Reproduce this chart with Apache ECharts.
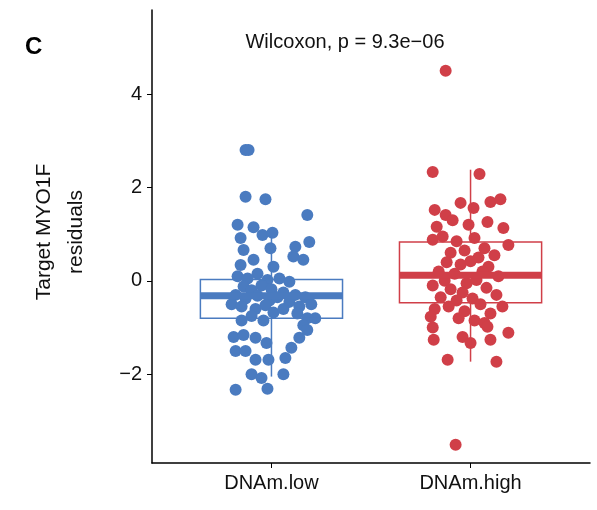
<!DOCTYPE html>
<html>
<head>
<meta charset="utf-8">
<script src="https://cdn.jsdelivr.net/npm/echarts@6/dist/echarts.min.js"></script>
<style>html,body{margin:0;padding:0;background:#fff}#chart{width:597px;height:510px}</style>
</head>
<body>
<div id="chart"></div>
<script>
const categories = ['DNAm.low', 'DNAm.high'];
const yTicks = [-2, 0, 2, 4];
// box stats: [q1, median, q3, whiskerLow, whiskerHigh]
const lowBox = [-0.8, -0.32, 0.03, -2.05, 0.95];
const highBox = [-0.47, 0.12, 0.83, -1.73, 2.38];
// jittered points [x, y]
const lowPoints = [
  [0.87,2.8],[0.885,2.8],[0.87,1.8],[0.97,1.75],[1.18,1.41],[0.83,1.2],[0.91,1.15],
  [0.955,0.98],[1.005,1.03],[0.845,0.92],[1.12,0.73],[1.19,0.83],[0.86,0.66],[0.995,0.7],
  [1.11,0.52],[1.16,0.45],[0.845,0.34],[0.91,0.45],[1.01,0.3],
  [0.83,0.1],[0.88,0.05],[0.93,0.15],[0.98,0.02],[1.04,0.05],[1.09,-0.02],[0.86,-0.12],
  [0.9,-0.2],[0.95,-0.1],[1.0,-0.18],[1.06,-0.25],[1.12,-0.3],[1.17,-0.35],[0.82,-0.3],
  [0.87,-0.38],[0.93,-0.32],[0.99,-0.42],[1.03,-0.35],[0.8,-0.5],[0.85,-0.55],[0.92,-0.6],
  [0.97,-0.52],[1.09,-0.45],[1.14,-0.55],[1.2,-0.5],[1.22,-0.8],[0.9,-0.75],[0.96,-0.85],
  [1.13,-0.7],[1.18,-0.8],[1.16,-0.95],[0.85,-0.85],[1.01,-0.68],[1.06,-0.6],
  [0.81,-1.2],[0.86,-1.16],[0.92,-1.22],[0.975,-1.33],[0.82,-1.5],[0.87,-1.5],
  [1.1,-1.43],[1.14,-1.22],[1.18,-1.05],[0.92,-1.69],[0.985,-1.69],[1.07,-1.65],
  [0.9,-2.0],[0.95,-2.08],[1.06,-2.0],[0.82,-2.33],[0.98,-2.31]
];
const highPoints = [
  [1.875,4.5],[1.81,2.33],[2.045,2.29],[1.95,1.67],[2.1,1.69],[2.15,1.75],[1.82,1.52],
  [1.875,1.41],[2.015,1.56],[2.085,1.26],[2.165,1.13],[1.83,1.16],[1.91,1.3],[1.99,1.2],
  [1.81,0.88],[2.19,0.77],[1.86,0.95],[1.93,0.85],[2.02,0.92],[2.07,0.7],[1.9,0.6],
  [1.97,0.65],[2.04,0.5],[2.12,0.55],[1.88,0.4],[1.95,0.35],[2.0,0.42],[2.09,0.3],
  [1.84,0.2],[1.92,0.15],[2.06,0.2],[2.14,0.1],[1.87,0.0],[1.98,-0.05],[2.03,0.02],
  [1.81,-0.1],[1.9,-0.18],[1.96,-0.25],[2.08,-0.15],[2.13,-0.3],[1.85,-0.35],[1.93,-0.42],
  [2.01,-0.38],[2.05,-0.5],[2.16,-0.55],[1.82,-0.6],[1.89,-0.55],[1.97,-0.65],[2.1,-0.7],
  [1.94,-0.8],[2.02,-0.85],[2.07,-0.9],
  [1.8,-0.77],[1.81,-1.0],[1.815,-1.26],[1.96,-1.2],[2.0,-1.33],[2.085,-0.98],
  [2.1,-1.26],[2.19,-1.11],[1.885,-1.69],[2.13,-1.73],[1.925,-3.51]
];

const blue = '#4a7bc0';
const red = '#d03f48';
const chart = echarts.init(document.getElementById('chart'));
const boxSeries = (stats, x, color) => ({
  type: 'custom',
  z: 3,
  data: [[x].concat(stats)],
  renderItem: (params, api) => {
    const cx = api.value(0), hw = 0.357;
    const p = (xv, yv) => api.coord([xv, yv]);
    const tl = p(cx - hw, api.value(3)), br = p(cx + hw, api.value(1));
    return {
      type: 'group',
      children: [
        { type: 'line', shape: { x1: p(cx, 0)[0], y1: p(cx, api.value(5))[1], x2: p(cx, 0)[0], y2: tl[1] }, style: { stroke: color, lineWidth: 1.5 } },
        { type: 'line', shape: { x1: p(cx, 0)[0], y1: br[1], x2: p(cx, 0)[0], y2: p(cx, api.value(4))[1] }, style: { stroke: color, lineWidth: 1.5 } },
        { type: 'rect', shape: { x: tl[0], y: tl[1], width: br[0] - tl[0], height: br[1] - tl[1] }, style: { fill: 'none', stroke: color, lineWidth: 1.5 } },
        { type: 'line', shape: { x1: tl[0], y1: p(cx, api.value(2))[1], x2: br[0], y2: p(cx, api.value(2))[1] }, style: { stroke: color, lineWidth: 7 } }
      ]
    };
  }
});

chart.setOption({
  animation: false,
  textStyle: { fontFamily: 'Liberation Sans, Arial, sans-serif' },
  grid: { left: 152, right: 7, top: 10, bottom: 47 },
  xAxis: {
    type: 'value', min: 0.4, max: 2.6,
    axisLine: { onZero: false, lineStyle: { color: '#000', width: 1.5 } },
    axisTick: { customValues: [1, 2], length: 5, lineStyle: { color: '#000' } },
    axisLabel: { customValues: [1, 2], formatter: v => categories[v - 1], fontSize: 20, color: '#111', margin: 10 },
    splitLine: { show: false }
  },
  yAxis: {
    type: 'value', min: -3.9, max: 5.8,
    axisLine: { show: true, onZero: false, lineStyle: { color: '#000', width: 1.5 } },
    axisTick: { show: true, customValues: yTicks, length: 5, lineStyle: { color: '#000' } },
    axisLabel: { customValues: yTicks, fontSize: 20, color: '#111', margin: 10, formatter: v => v < 0 ? '\u2212' + (-v) : String(v) },
    splitLine: { show: false }
  },
  graphic: [
    { type: 'text', left: 25, top: 35, style: { text: 'C', font: 'bold 24px Liberation Sans, Arial', fill: '#000' } },
    { type: 'text', x: 345, y: 42, style: { text: 'Wilcoxon, p = 9.3e\u221206', font: '20px Liberation Sans, Arial', fill: '#111', align: 'center', verticalAlign: 'middle' } },
    { type: 'text', x: 60, y: 232, rotation: Math.PI / 2, style: { text: 'Target MYO1F\nresiduals', font: '21px Liberation Sans, Arial', lineHeight: 32, fill: '#111', align: 'center', verticalAlign: 'middle' } }
  ],
  series: [
    { type: 'scatter', data: lowPoints, symbolSize: 12, itemStyle: { color: blue, opacity: 1 }, z: 2 },
    { type: 'scatter', data: highPoints, symbolSize: 12, itemStyle: { color: red, opacity: 1 }, z: 2 },
    boxSeries(lowBox, 1, blue),
    boxSeries(highBox, 2, red)
  ]
});
</script>
</body>
</html>
